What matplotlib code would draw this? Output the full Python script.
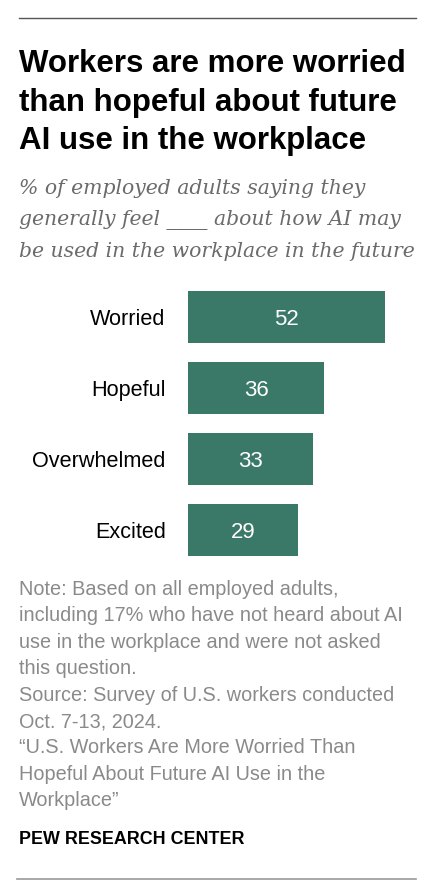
import matplotlib.pyplot as plt

# Daten
categories = ["Worried", "Hopeful", "Overwhelmed", "Excited"]
values = [52, 36, 33, 29]

title_lines = ["Workers are more worried", "than hopeful about future", "AI use in the workplace"]
subtitle_lines = ["% of employed adults saying they",
                  "generally feel ____ about how AI may",
                  "be used in the workplace in the future"]
note_lines = ["Note: Based on all employed adults,",
              "including 17% who have not heard about AI",
              "use in the workplace and were not asked",
              "this question.",
              "Source: Survey of U.S. workers conducted",
              "Oct. 7-13, 2024.",
              "\u201cU.S. Workers Are More Worried Than",
              "Hopeful About Future AI Use in the",
              "Workplace\u201d"]

W, H = 440, 896
bar_color = "#3a7867"
fig = plt.figure(figsize=(W / 100, H / 100), dpi=100)


def fx(px):
    return px / W


def fy(py):
    return 1 - py / H


# Linien oben und unten
fig.add_artist(plt.Line2D([fx(19), fx(416)], [fy(18), fy(18)], color="#555555", lw=1.0))
fig.add_artist(plt.Line2D([fx(17), fx(416)], [fy(879), fy(879)], color="#999999", lw=1.2))

# Titel
for i, line in enumerate(title_lines):
    fig.text(fx(19), fy(72 + i * 38.5), line, fontsize=22.5, fontweight="bold",
             family="Liberation Sans", color="black", va="baseline")

# Untertitel
for i, line in enumerate(subtitle_lines):
    fig.text(fx(19), fy(194 + i * 31.3), line, fontsize=14.7, style="italic",
             family="DejaVu Serif", color="#6b6b6b", va="baseline")

# Balken
ax = fig.add_axes([fx(188), fy(565.5), fx(416) - fx(188), (565.5 - 281.5) / H])
pos = range(len(categories))
ax.barh(pos, values, height=0.72, color=bar_color)
ax.set_xlim(0, 228 / 3.79)
ax.set_ylim(3.5, -0.5)
for p, v in zip(pos, values):
    ax.text(v / 2, p + 0.03, str(v), color="white", ha="center", va="center",
            fontsize=16, family="Liberation Sans")
ax.set_yticks(list(pos))
ax.set_yticklabels(categories, fontsize=15.6, family="Liberation Sans")
ax.tick_params(axis="y", length=0, pad=16)
ax.set_xticks([])
for s in ax.spines.values():
    s.set_visible(False)

# Anmerkungen
for i, line in enumerate(note_lines):
    fig.text(fx(19), fy(595 + i * 26.4), line, fontsize=14.3,
             family="Liberation Sans", color="#8a8a8a", va="baseline")

fig.text(fx(19), fy(844), "PEW RESEARCH CENTER", fontsize=12.9, fontweight="bold",
         family="Liberation Sans", color="black", va="baseline")

fig.savefig("out.png", dpi=100, facecolor="white")
